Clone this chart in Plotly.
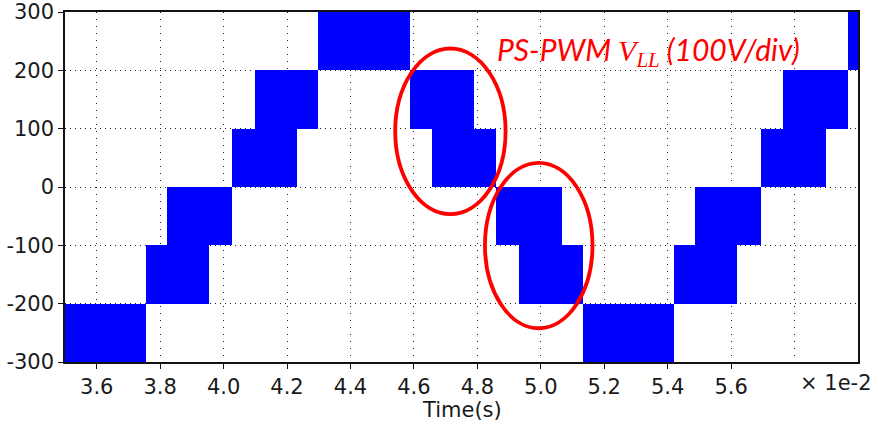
import plotly.graph_objects as go

# Switching-interval boundaries (time in units of 1e-2 s)
t_edges = [3.5, 3.755, 3.820, 3.954, 4.026, 4.098, 4.231, 4.299, 4.588, 4.656,
           4.789, 4.860, 4.932, 5.067, 5.134, 5.421, 5.487, 5.620, 5.693, 5.764,
           5.898, 5.967, 6.0]
# Upper and lower voltage levels the PWM toggles between in each interval (V)
v_upper = [-200, -100, 0, 0, 100, 200, 200, 300, 200, 200, 100,
           0, 0, -100, -200, -100, 0, 0, 100, 200, 200, 300]
v_lower = [-300, -200, -200, -100, 0, 0, 100, 200, 100, 0, 0,
           -100, -200, -200, -300, -200, -200, -100, 0, 0, 100, 200]

x_ticks = [3.6, 3.8, 4.0, 4.2, 4.4, 4.6, 4.8, 5.0, 5.2, 5.4, 5.6]
x_tick_text = ["3.6", "3.8", "4.0", "4.2", "4.4", "4.6", "4.8", "5.0", "5.2", "5.4", "5.6"]
x_unlabelled_grid = [5.8]
y_ticks = [-300, -200, -100, 0, 100, 200, 300]
y_tick_text = ["-300", "-200", "-100", "0", "100", "200", "300"]

centers = [(a + b) / 2 for a, b in zip(t_edges[:-1], t_edges[1:])]
widths = [b - a for a, b in zip(t_edges[:-1], t_edges[1:])]
heights = [u - l for u, l in zip(v_upper, v_lower)]

fig = go.Figure()
fig.add_trace(go.Bar(
    x=centers, y=heights, base=v_lower, width=widths,
    marker=dict(color="#0000ff", line=dict(width=0)),
    hoverinfo="skip", showlegend=False,
))

font_main = "DejaVu Sans"
tick_size = 21

fig.update_layout(
    width=878, height=429,
    margin=dict(l=65, r=20, t=12, b=67),
    paper_bgcolor="white", plot_bgcolor="white",
    bargap=0, barmode="overlay",
    font=dict(family=font_main, size=tick_size, color="#1a1a1a"),
    xaxis=dict(
        range=[3.5, 6.0], tickvals=x_ticks, ticktext=x_tick_text,
        showgrid=True, gridcolor="#222222", gridwidth=1, griddash="1px,6px",
        minor=dict(tickvals=x_unlabelled_grid, showgrid=True, gridcolor="#222222",
                   gridwidth=1, griddash="1px,6px", ticks=""),
        zeroline=False, showline=True, linecolor="#111111", linewidth=1.5,
        mirror=True, ticks="outside", ticklen=5, tickcolor="#111111",
        tickfont=dict(size=tick_size), automargin=False,
    ),
    yaxis=dict(
        range=[-300, 300], tickvals=y_ticks, ticktext=y_tick_text,
        showgrid=True, gridcolor="#222222", gridwidth=1, griddash="1px,4px",
        zeroline=False, showline=True, linecolor="#111111", linewidth=1.5,
        mirror=True, ticks="outside", ticklen=5, tickcolor="#111111",
        tickfont=dict(size=tick_size), automargin=False,
    ),
)

# Highlight the two transition regions
for x0, x1, y0, y1 in [(4.541, 4.889, -46.6, 237.4), (4.824, 5.163, -242.1, 41.5)]:
    fig.add_shape(type="circle", xref="x", yref="y", x0=x0, x1=x1, y0=y0, y1=y1,
                  line=dict(color="#ff0000", width=3.8), layer="above")

fig.add_annotation(
    x=4.856, y=232, xref="x", yref="y", xanchor="left", yanchor="middle",
    text="PS-PWM <span style='font-family:Liberation Serif'>V<sub>LL</sub></span> (100V/div)",
    showarrow=False,
    font=dict(family="Lato", size=30, color="#ff0000", style="italic"),
)

fig.add_annotation(
    x=0.5, y=-0.137, xref="paper", yref="paper", xanchor="center", yanchor="middle",
    text="Time(s)", showarrow=False, font=dict(size=tick_size),
)
fig.add_annotation(
    x=1.0202, y=-0.059, xref="paper", yref="paper", xanchor="right", yanchor="middle",
    text="× 1e-2", showarrow=False, font=dict(size=tick_size),
)

fig.write_html("out.html")
